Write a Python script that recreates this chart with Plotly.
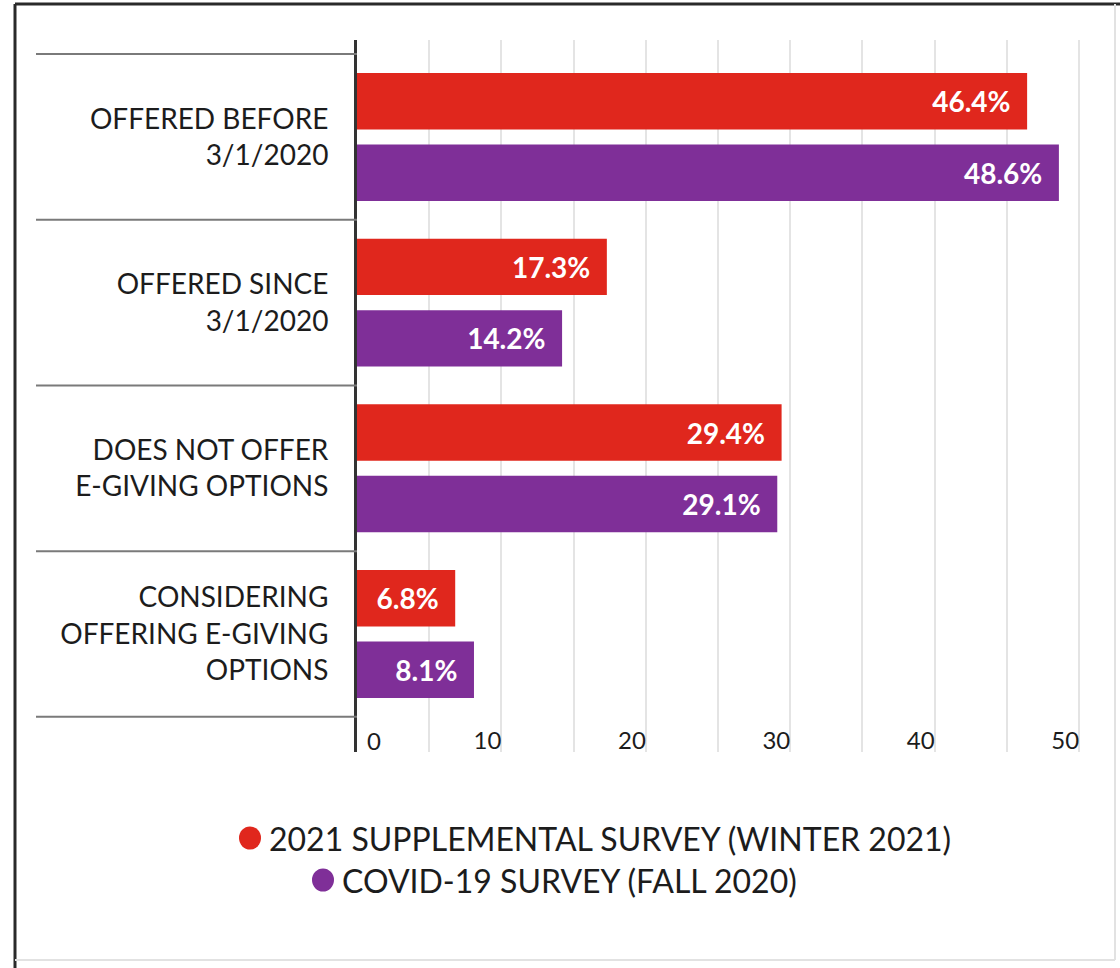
import plotly.graph_objects as go

# Survey categories and shares (%)
categories = [
    "OFFERED BEFORE<br>3/1/2020",
    "OFFERED SINCE<br>3/1/2020",
    "DOES NOT OFFER<br>E-GIVING OPTIONS",
    "CONSIDERING<br>OFFERING E-GIVING<br>OPTIONS",
]
winter_2021 = [46.4, 17.3, 29.4, 6.8]
fall_2020 = [48.6, 14.2, 29.1, 8.1]
series_names = ["2021 SUPPLEMENTAL SURVEY (WINTER 2021)", "COVID-19 SURVEY (FALL 2020)"]
x_tick_values = [10, 20, 30, 40, 50]
x_tick_labels = ["10", "20", "30", "40", "50"]

RED = "#e0271d"
PURPLE = "#7f2f98"
TEXT = "#1c1c1c"
FONT = "Lato"

# Page geometry (pixels) and helpers to place decorations in paper coordinates
W, H = 1120, 968
ML, MR, MT, MB = 357, 12, 40, 216
PW, PH = W - ML - MR, H - MT - MB


def fx(px):
    return (px - ML) / PW


def fy(py):
    return (H - MB - py) / PH


fig = go.Figure()
for name, vals, col in [(series_names[0], winter_2021, RED), (series_names[1], fall_2020, PURPLE)]:
    fig.add_trace(go.Bar(
        y=categories,
        x=vals,
        orientation="h",
        name=name,
        marker=dict(color=col, line=dict(width=0)),
        text=[f"{v}%\u00a0\u00a0" for v in vals],
        textposition="inside",
        insidetextanchor="end",
        textfont=dict(family=FONT, size=28, color="white", weight="bold"),
        showlegend=False,
        hoverinfo="skip",
    ))

n = len(categories)
shapes = []
# category separators in the label column
for k in range(n + 1):
    shapes.append(dict(type="line", xref="paper", yref="y",
                       x0=fx(36), x1=0, y0=k - 0.5, y1=k - 0.5,
                       line=dict(color="#7a7a7a", width=2), layer="above"))

# outer frame
shapes += [
    dict(type="line", xref="paper", yref="paper", x0=fx(15), x1=fx(W + 5), y0=fy(4), y1=fy(4),
         line=dict(color="#2a2a2a", width=3)),
    dict(type="line", xref="paper", yref="paper", x0=fx(15), x1=fx(15), y0=fy(4), y1=fy(H + 5),
         line=dict(color="#2a2a2a", width=3)),
    dict(type="line", xref="paper", yref="paper", x0=fx(1115), x1=fx(1115), y0=fy(4), y1=fy(960),
         line=dict(color="#e2e2e2", width=2)),
    dict(type="line", xref="paper", yref="paper", x0=fx(15), x1=fx(1115), y0=fy(960), y1=fy(960),
         line=dict(color="#e2e2e2", width=2)),
]

# legend dots and labels
legend_rows = [(series_names[0], RED, 250, 838), (series_names[1], PURPLE, 323, 880)]
annotations = []
for label, col, cx, cy in legend_rows:
    shapes.append(dict(type="circle", xref="paper", yref="paper",
                       x0=fx(cx - 11), x1=fx(cx + 11), y0=fy(cy - 11.5), y1=fy(cy + 11.5),
                       fillcolor=col, line=dict(width=0)))
    annotations.append(dict(xref="paper", yref="paper", x=fx(cx + 17), y=fy(cy),
                            xanchor="left", yanchor="middle", showarrow=False,
                            text=label, font=dict(family=FONT, size=32, color=TEXT)))

# zero label sits to the right of the value axis line
annotations.append(dict(xref="x", yref="paper", x=0, y=0, xanchor="left", yanchor="bottom",
                        xshift=8, yshift=-5, showarrow=False, text="0",
                        font=dict(family=FONT, size=24, color=TEXT)))

fig.update_layout(
    width=W, height=H,
    margin=dict(l=ML, r=MR, t=MT, b=MB),
    paper_bgcolor="white", plot_bgcolor="white",
    barmode="group", bargap=0.137, bargroupgap=0.21,
    shapes=shapes, annotations=annotations,
    showlegend=False,
    xaxis=dict(
        range=[0, 52], tickmode="array", tickvals=x_tick_values, ticktext=x_tick_labels,
        ticklabelposition="inside left", ticks="", ticklabelstandoff=-8,
        tickfont=dict(family=FONT, size=24, color=TEXT),
        showgrid=True, gridcolor="#e4e4e4", gridwidth=1.5,
        minor=dict(dtick=5, tick0=0, showgrid=True, gridcolor="#e4e4e4", gridwidth=1.5),
        zeroline=False, showline=False, fixedrange=True,
    ),
    yaxis=dict(
        categoryorder="array", categoryarray=categories,
        range=[3.712, -0.585],
        showline=True, linecolor="#333333", linewidth=3,
        ticks="", ticklabelstandoff=20,
        tickfont=dict(family=FONT, size=28, color=TEXT),
        showgrid=False, zeroline=False,
    ),
)

fig.write_html("out.html")
